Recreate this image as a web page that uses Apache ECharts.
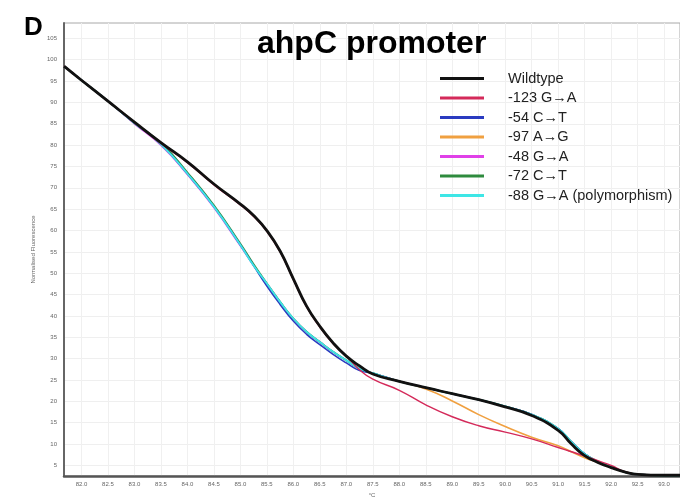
<!DOCTYPE html>
<html>
<head>
<meta charset="utf-8">
<script src="https://cdn.jsdelivr.net/npm/echarts@6/dist/echarts.min.js"></script>
<style>
  html, body { margin: 0; padding: 0; background: #fff; }
  #chart { width: 680px; height: 503px; }
</style>
</head>
<body>
<div id="chart"></div>
<script>
// Melt curve temperatures (°C)
const temps = [81.67, 82.0, 82.5, 83.0, 83.5, 84.0, 84.5, 85.0, 85.25, 85.5, 85.75, 86.0, 86.25, 86.5, 86.75, 87.0, 87.25, 87.5, 88.0, 88.5, 89.0, 89.5, 90.0, 90.5, 91.0, 91.25, 91.5, 91.75, 92.0, 92.25, 92.5, 93.0, 93.3];

// Normalised fluorescence per genotype
const wildtype = [98.5, 95.2, 90.3, 85.4, 80.6, 76.1, 70.9, 66.2, 63.5, 60.0, 55.2, 48.7, 42.3, 37.6, 33.7, 30.6, 28.3, 26.4, 24.7, 23.2, 21.8, 20.4, 18.7, 16.7, 13.2, 10.0, 7.3, 5.7, 4.5, 3.5, 2.9, 2.7, 2.7];
const g123a = [98.5, 95.2, 90.3, 85.3, 80.4, 75.9, 70.7, 66.0, 63.3, 59.8, 55.0, 48.5, 42.1, 37.4, 33.5, 30.6, 27.4, 25.2, 22.6, 19.2, 16.4, 14.3, 12.8, 11.2, 9.2, 8.2, 7.2, 6.1, 5.0, 3.6, 2.9, 2.7, 2.7];
const c54t = [98.5, 95.2, 90.3, 85.2, 80.2, 73.3, 65.6, 56.6, 51.8, 47.0, 42.7, 38.8, 35.7, 33.3, 31.0, 29.0, 27.2, 26.6, 24.7, 23.2, 21.8, 20.4, 18.8, 16.9, 13.6, 10.5, 7.7, 5.9, 4.6, 3.5, 2.9, 2.7, 2.7];
const a97g = [98.5, 95.2, 90.3, 85.4, 80.6, 76.1, 70.9, 66.2, 63.5, 60.0, 55.2, 48.7, 42.3, 37.6, 33.7, 30.6, 28.3, 26.4, 24.7, 22.9, 20.1, 16.9, 14.1, 11.6, 9.6, 8.2, 6.8, 5.7, 4.5, 3.5, 2.9, 2.7, 2.7];
const g48a = [98.5, 95.2, 90.3, 85.0, 80.0, 73.1, 65.4, 56.4, 51.8, 47.6, 43.3, 39.4, 36.3, 33.9, 31.6, 29.6, 27.7, 26.6, 24.7, 23.2, 21.8, 20.4, 18.8, 16.9, 13.6, 10.5, 7.7, 5.9, 4.6, 3.5, 2.9, 2.7, 2.7];
const c72t = [98.5, 95.2, 90.3, 85.2, 80.5, 73.6, 65.9, 56.9, 52.1, 47.6, 43.3, 39.4, 36.3, 33.9, 31.6, 29.6, 27.7, 26.6, 24.7, 23.2, 21.8, 20.4, 18.8, 16.9, 13.6, 10.5, 7.7, 5.9, 4.6, 3.5, 2.9, 2.7, 2.7];
const g88a = [98.5, 95.2, 90.3, 85.2, 80.2, 73.3, 65.6, 56.6, 51.8, 47.6, 43.3, 39.4, 36.3, 33.9, 31.6, 29.6, 27.7, 26.6, 24.7, 23.2, 21.8, 20.4, 18.8, 16.9, 13.6, 10.5, 7.7, 5.9, 4.6, 3.5, 2.9, 2.7, 2.7];

// Axis tick labels
const xTicks = [82.0, 82.5, 83.0, 83.5, 84.0, 84.5, 85.0, 85.5, 86.0, 86.5, 87.0, 87.5, 88.0, 88.5, 89.0, 89.5, 90.0, 90.5, 91.0, 91.5, 92.0, 92.5, 93.0];
const yTicks = [5, 10, 15, 20, 25, 30, 35, 40, 45, 50, 55, 60, 65, 70, 75, 80, 85, 90, 95, 100, 105];

const seriesNames = ['Wildtype', '-123 G\u2192A', '-54 C\u2192T', '-97 A\u2192G', '-48 G\u2192A', '-72 C\u2192T', '-88 G\u2192A (polymorphism)'];
const seriesValues = [wildtype, g123a, c54t, a97g, g48a, c72t, g88a];
const seriesColors = ['#111111', '#d42a5a', '#2a3bc0', '#f0a040', '#e040e8', '#2e8b3e', '#3ee6e6'];
const seriesWidths = [2.8, 1.4, 1.6, 1.6, 1.6, 1.8, 1.8];
const seriesZ = [10, 8, 5, 7, 3, 4, 6];

const font = '"Liberation Sans", Arial, sans-serif';

const chart = echarts.init(document.getElementById('chart'), null, { renderer: 'canvas' });

chart.setOption({
  animation: false,
  backgroundColor: '#ffffff',
  title: [
    { text: 'D', left: 19, top: 10, textStyle: { fontFamily: font, fontSize: 26, fontWeight: 'bold', color: '#000' } },
    { text: 'ahpC promoter', left: 252, top: 23, textStyle: { fontFamily: font, fontSize: 32, fontWeight: 'bold', color: '#000' } }
  ],
  legend: {
    orient: 'vertical',
    left: 440,
    top: 71,
    padding: 0,
    data: seriesNames,
    icon: 'rect',
    itemWidth: 44,
    itemHeight: 3,
    itemGap: 4.5,
    textStyle: { fontFamily: font, fontSize: 14.5, color: '#222', lineHeight: 14, padding: [0, 0, 0, 19] }
  },
  grid: {
    left: 64, top: 23, right: -12, bottom: 18,
    show: true, borderColor: '#a8a8a8', borderWidth: 1
  },
  xAxis: {
    type: 'value',
    min: 81.67,
    max: 93.3,
    name: '\u00b0C',
    nameLocation: 'middle',
    nameGap: 13,
    nameTextStyle: { fontFamily: font, fontSize: 6, color: '#666' },
    axisLine: { show: true, onZero: false, lineStyle: { color: '#555', width: 2.5 } },
    axisTick: { show: false, customValues: xTicks },
    axisLabel: {
      customValues: xTicks,
      formatter: v => v.toFixed(1),
      fontFamily: font, fontSize: 6, color: '#666', margin: 5
    },
    splitLine: { show: true, lineStyle: { color: '#f0f0f0', width: 1 } }
  },
  yAxis: {
    type: 'value',
    min: 2.5,
    max: 108.6,
    name: 'Normalised Fluorescence',
    nameLocation: 'middle',
    nameGap: 20,
    nameTextStyle: { fontFamily: font, fontSize: 6, color: '#666' },
    axisLine: { show: true, onZero: false, lineStyle: { color: '#666', width: 2 } },
    axisTick: { show: false, customValues: yTicks },
    axisLabel: {
      customValues: yTicks,
      fontFamily: font, fontSize: 6, color: '#666', margin: 7
    },
    splitLine: { show: true, lineStyle: { color: '#efefef', width: 1 } }
  },
  series: seriesNames.map((name, i) => ({
    name: name,
    type: 'line',
    data: temps.map((t, j) => [t, seriesValues[i][j]]),
    smooth: 0.5,
    showSymbol: false,
    z: seriesZ[i],
    clip: true,
    color: seriesColors[i],
    lineStyle: { color: seriesColors[i], width: seriesWidths[i] }
  }))
});
</script>
</body>
</html>
